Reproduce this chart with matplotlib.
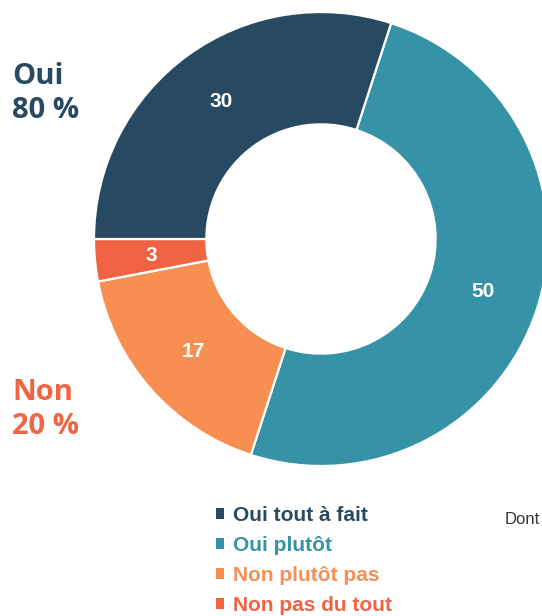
import matplotlib
matplotlib.use("Agg")
import matplotlib.pyplot as plt

# Data (clockwise from the top-right)
labels = ["Oui plutôt", "Non plutôt pas", "Non pas du tout", "Oui tout à fait"]
values = [50, 17, 3, 30]
colors = ["#3592a7", "#f78f52", "#f06444", "#274a62"]

legend_order = ["Oui tout à fait", "Oui plutôt", "Non plutôt pas", "Non pas du tout"]
summary = [("Oui", "80 %", "#274a62"), ("Non", "20 %", "#f06444")]

W, H = 542, 616
fig = plt.figure(figsize=(W / 100, H / 100), dpi=100)

# donut: center (321, 239) px from top-left, outer radius 227 px
cx, cy, r = 321, 239, 227
ax = fig.add_axes([(cx - r) / W, (H - cy - r) / H, 2 * r / W, 2 * r / H])
wedges, texts = ax.pie(values, colors=colors, startangle=72, counterclock=False,
                       radius=1, labels=[str(v) for v in values], labeldistance=0.75,
                       wedgeprops=dict(width=0.495, edgecolor="white", linewidth=1.6),
                       textprops=dict(color="white", fontsize=15, fontweight="bold",
                                      family="Liberation Sans"))
for t in texts:
    t.set_ha("center")
    t.set_va("center")
ax.set_xlim(-1, 1)
ax.set_ylim(-1, 1)
ax.set_aspect("equal")
ax.axis("off")

# Oui / Non summary labels on the left
rows = [(76, summary[0][0], summary[0][2]), (110, summary[0][1], summary[0][2]),
        (392, summary[1][0], summary[1][2]), (427, summary[1][1], summary[1][2])]
for y, s, c in rows:
    fig.text(12 / W, 1 - y / H, s, color=c, fontsize=21, fontweight="bold",
             family="Open Sans", va="center", ha="left")

# legend
handles = [wedges[labels.index(l)] for l in legend_order]
leg = fig.legend(handles, legend_order, loc="upper left",
                 bbox_to_anchor=(216 / W, 1 - 506 / H), frameon=False,
                 prop=dict(family="Liberation Sans", weight="bold", size=15),
                 handlelength=0.4, handleheight=0.4, handletextpad=0.4,
                 labelspacing=0.53, borderpad=0, borderaxespad=0)
for t, h in zip(leg.get_texts(), handles):
    t.set_color(h.get_facecolor())
for h in leg.legend_handles:
    h.set_edgecolor("none")

fig.text(505 / W, 1 - 519 / H, "Dont", color="#333333", fontsize=12,
         family="Liberation Sans", va="center", ha="left")

fig.savefig("out.png", dpi=100)
